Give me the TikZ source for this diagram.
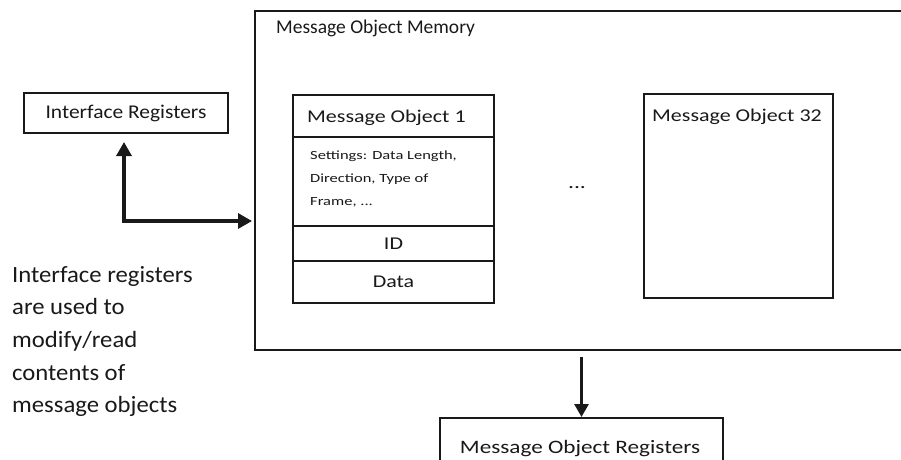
\documentclass[tikz,border=0pt]{standalone}
\usepackage{fontspec}
\setmainfont{Carlito}
\newfontfamily\fplain{Carlito}
\newfontfamily\fnote{Carlito}[FakeStretch=1.06]
\newfontfamily\fmid{Carlito}[FakeStretch=1.1]
\newfontfamily\fwide{Carlito}[FakeStretch=1.22]
\newfontfamily\fsmall{Carlito}[FakeStretch=1.32]
\usetikzlibrary{arrows.meta}

\begin{document}
\begin{tikzpicture}[x=1pt,y=-1pt,
  box/.style={draw=black!90, line width=2pt, rectangle, inner sep=0pt,
              anchor=north west, text=black!90},
  lbl/.style={inner sep=0pt, text=black!90},
  headfont/.style={font=\fwide\fontsize{18}{22}\selectfont},
  smallfont/.style={font=\fsmall\fontsize{12.5}{23}\selectfont},
  conn/.style={draw=black!90, line width=3.2pt}]

\useasboundingbox (0,0) rectangle (901,459);
\clip (0,0) rectangle (901,459);

% outer memory block (runs off the right edge)
\node[box, minimum width=700pt, minimum height=339pt] (mem) at (254,10) {};
\node[lbl, anchor=base west, font=\fplain\fontsize{19.5}{23}\selectfont]
  (memtitle) at (276,33) {Message Object Memory};

% interface registers
\node[box, minimum width=204pt, minimum height=40pt,
      font=\fmid\fontsize{19.5}{23}\selectfont] (ifr) at (23,92) {Interface Registers};

% message object 1, stacked fields
\node[box, minimum width=201pt, minimum height=42pt] (mo1h) at (292,94) {};
\node[box, minimum width=201pt, minimum height=89pt] (mo1s) at (292,136) {};
\node[box, minimum width=201pt, minimum height=35pt, headfont] (mo1i) at (292,225) {ID};
\node[box, minimum width=201pt, minimum height=42pt, headfont] (mo1d) at (292,260) {Data};
\node[lbl, anchor=base west, headfont] (mo1t) at (307,122) {Message Object 1};
\node[lbl, anchor=base west, smallfont] (set1) at (310,159) {Settings: Data Length,};
\node[lbl, anchor=base west, smallfont] (set2) at (310,182) {Direction, Type of};
\node[lbl, anchor=base west, smallfont] (set3) at (310,205) {Frame, ...};

% ellipsis between objects
\node[lbl, anchor=base, font=\fsmall\fontsize{18}{20}\selectfont] (dots) at (577,188) {...};

% message object 32
\node[box, minimum width=189pt, minimum height=204pt] (mo32) at (643,93) {};
\node[lbl, anchor=base west, headfont] (mo32t) at (652,121) {Message Object 32};

% note on the left (base anchor sits on the last line)
\node[lbl, anchor=base west, align=left,
      font=\fnote\fontsize{23.3}{32.7}\selectfont] (note) at (12,412.8)
  {Interface registers\\are used to\\modify/read\\contents of\\message objects};

% message object registers (box runs past the lower edge)
\node[box, minimum width=283pt, minimum height=60pt] (mobr) at (439,417) {};
\node[lbl, anchor=base, font=\fwide\fontsize{19}{23}\selectfont]
  (mobrt) at (580,453) {Message Object Registers};

% connectors
\draw[conn, {Triangle[length=14pt,width=15pt]}-{Triangle[length=14pt,width=15pt]}]
  ([xshift=-2pt,yshift=-8pt]ifr.south)
  |- ([xshift=-2pt,yshift=-40.5pt]mem.west);
\draw[conn, line width=2.8pt, -{Triangle[length=13pt,width=14pt]}]
  ([yshift=-6pt]mem.south -| mobr.north) -- (mobr.north);
\end{tikzpicture}
\end{document}
